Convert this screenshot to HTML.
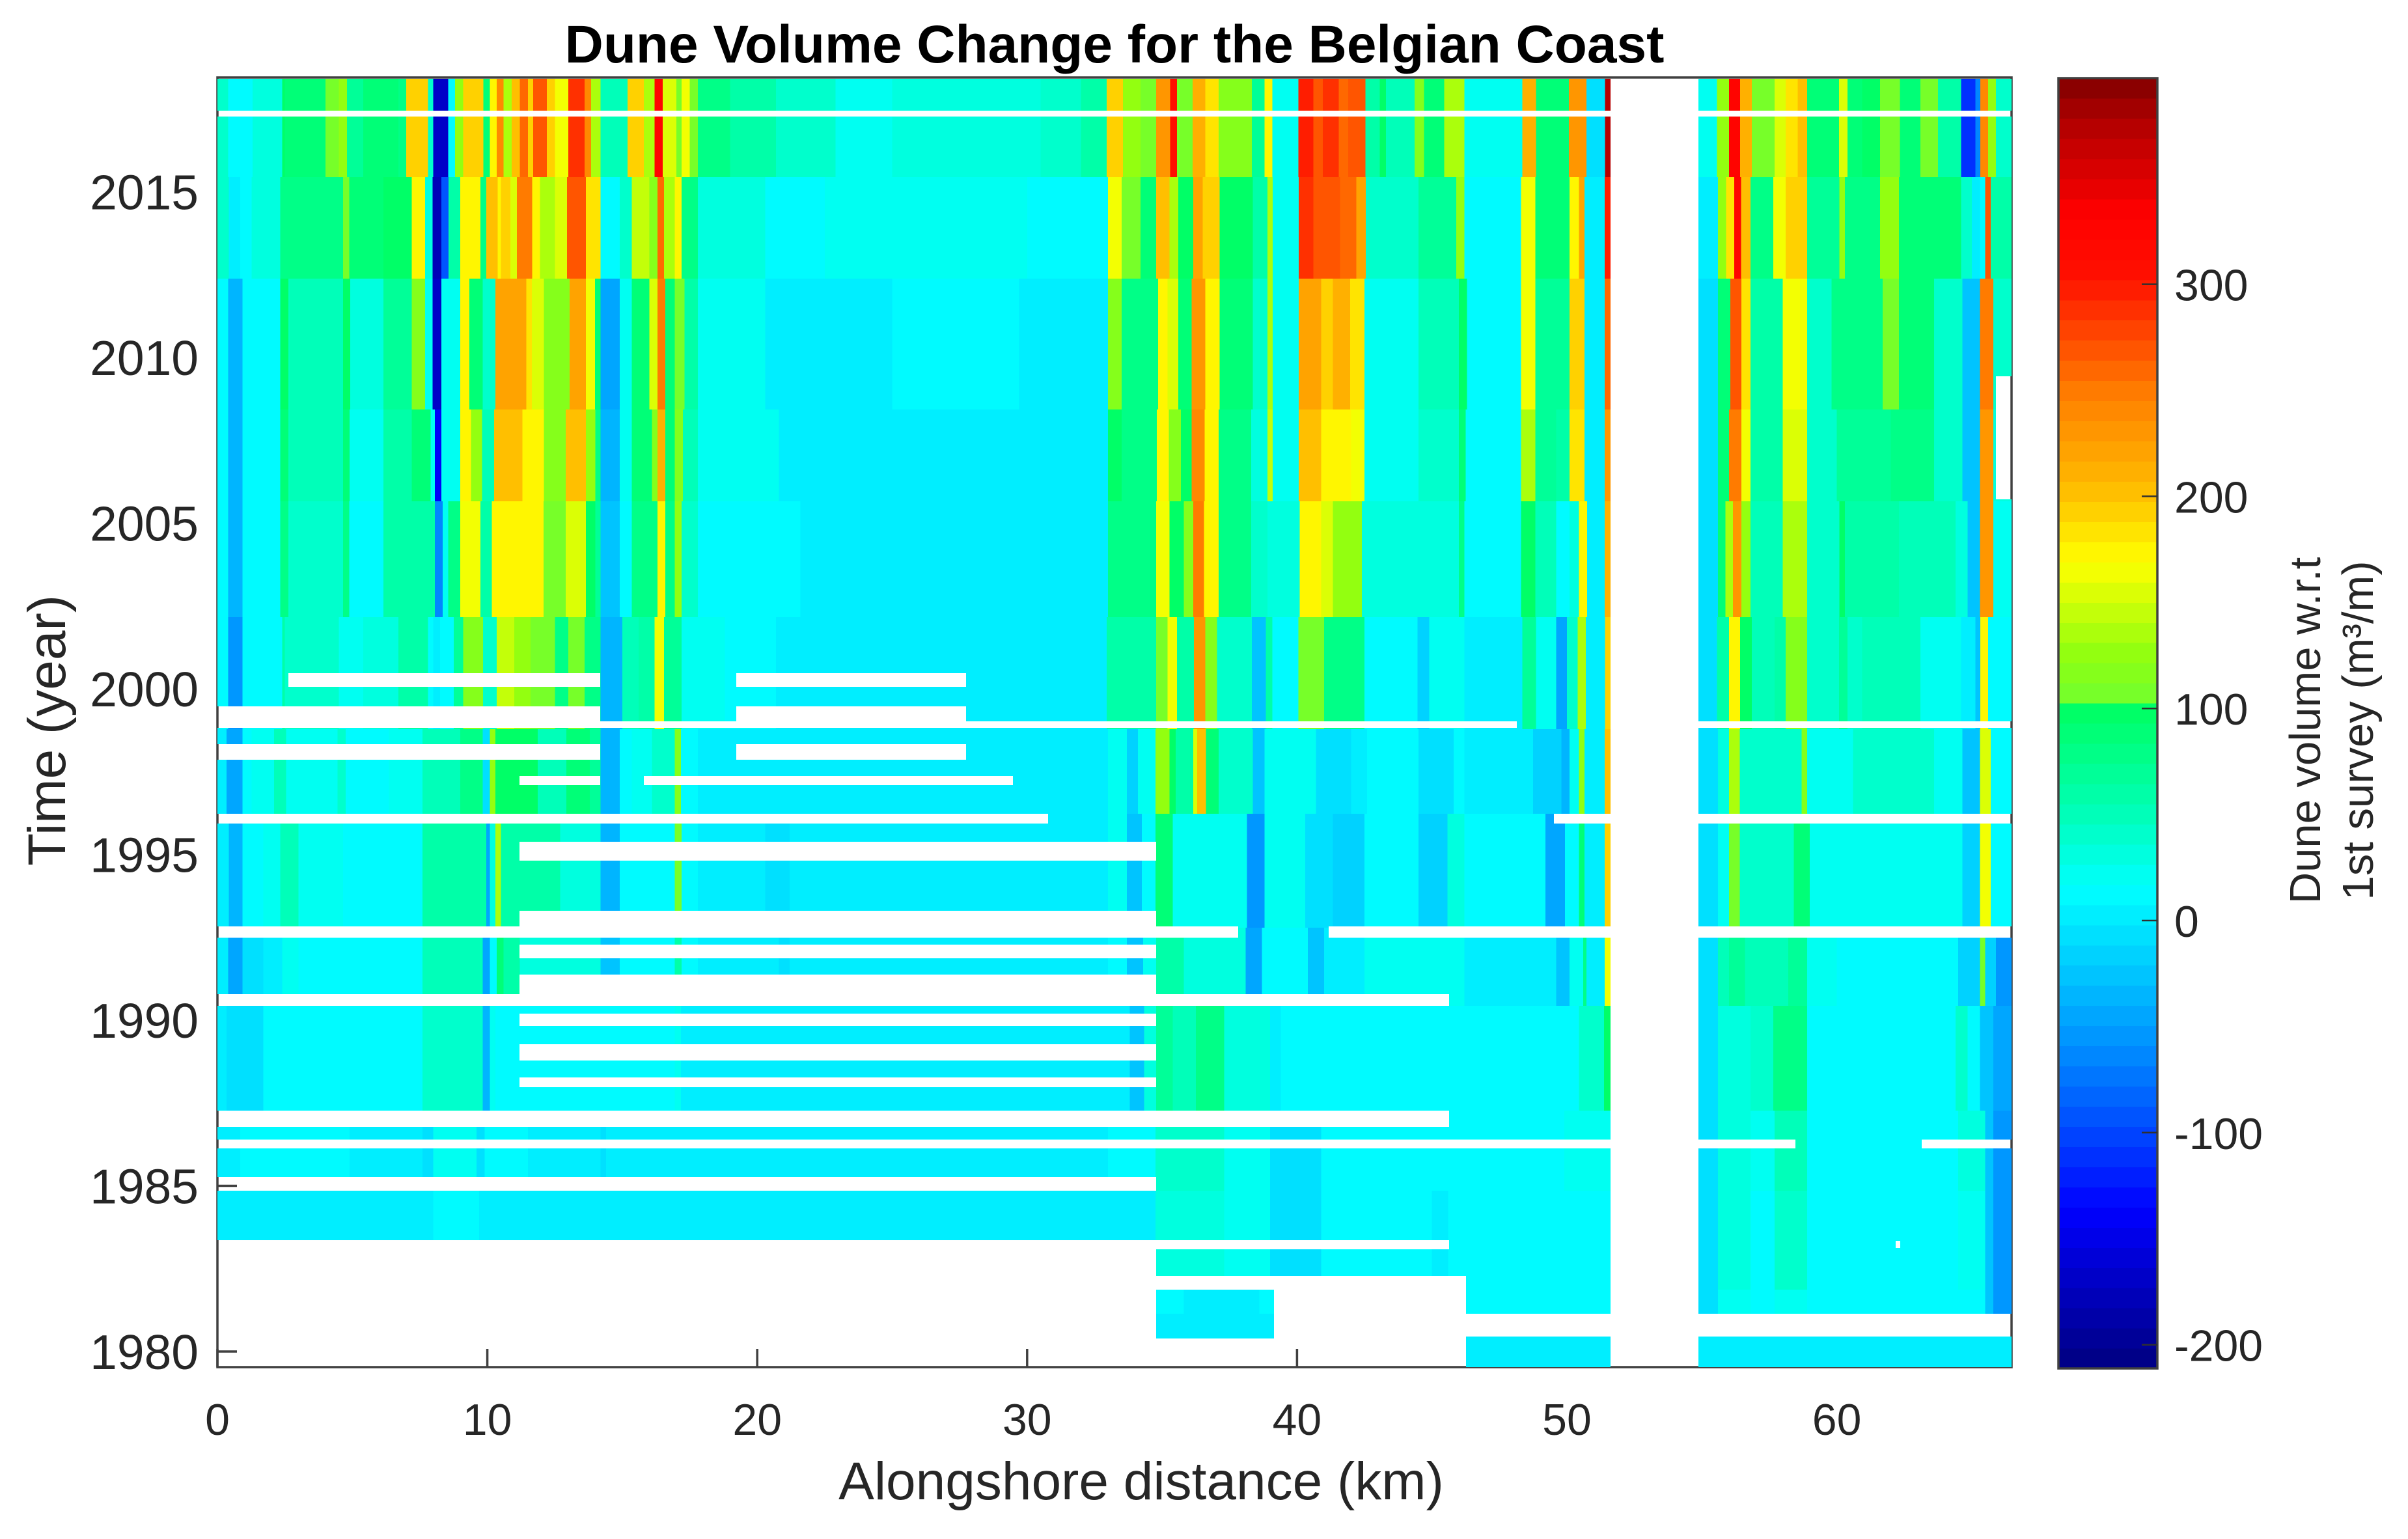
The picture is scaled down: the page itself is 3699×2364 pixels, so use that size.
<!DOCTYPE html>
<html lang="en">
<head>
<meta charset="utf-8">
<title>Dune Volume Change for the Belgian Coast</title>
<style>
html,body{margin:0;padding:0;background:#fff;width:3699px;height:2364px;overflow:hidden}
svg{display:block;font-family:"Liberation Sans",Arial,sans-serif}
</style>
</head>
<body>
<svg id="chart" xmlns="http://www.w3.org/2000/svg" width="3699" height="2364" viewBox="0 0 3699 2364">
  <rect width="3699" height="2364" fill="#fff"/>
  <text x="1712" y="96" font-size="82" font-weight="bold" text-anchor="middle" fill="#000">Dune Volume Change for the Belgian Coast</text>
  <g id="axes"></g>
  <g id="heat" mask="url(#gapMask)" shape-rendering="crispEdges"></g>
  <defs><mask id="gapMask" maskUnits="userSpaceOnUse" x="0" y="0" width="3699" height="2364"><rect width="3699" height="2364" fill="#fff"/><g id="gapRects" shape-rendering="crispEdges"></g></mask></defs>
  <g id="labels"></g>
  <text x="1753" y="2303" font-size="82" text-anchor="middle" fill="#262626">Alongshore distance (km)</text>
  <text transform="translate(100,1122) rotate(-90)" font-size="82" text-anchor="middle" fill="#262626">Time (year)</text>
  <g id="colorbar"></g>
  <text transform="translate(3564,1122) rotate(-90)" font-size="67" text-anchor="middle" fill="#262626">Dune volume w.r.t</text>
  <text transform="translate(3645,1122) rotate(-90)" font-size="67" text-anchor="middle" fill="#262626">1st survey (m³/m)</text>
</svg>
<script>
// Tick values
const xTickValues = [0, 10, 20, 30, 40, 50, 60];
const yTickValues = [1980, 1985, 1990, 1995, 2000, 2005, 2010, 2015];
const colorTickValues = [-200, -100, 0, 100, 200, 300];

// Upper year limit of each survey period (last entry closes the bottom of the map)
const periodTopYears = [2018.42, 2015.44, 2012.38, 2008.43, 2005.66, 2002.16, 1998.78, 1996.23, 1992.79, 1990.43, 1987.27, 1984.85, 1981.87, 1981.14];
const periodBottomYear = 1979.53;

// Dune volume per period: [alongshore end km, m3/m]
const volumes2017 = [[0.4,45],[1.3,15],[2.4,30],[2.5,100],[4,85],[4.5,105],[4.8,130],[5.4,70],[6.7,88],[7,75],[7.8,190],[8,40],[8.55,-170],[8.8,15],[9.1,125],[9.85,190],[10.1,85],[10.35,170],[10.6,240],[10.9,140],[11.2,200],[11.5,255],[11.7,190],[12.2,265],[12.5,190],[13,165],[13.6,285],[13.85,240],[14.19,135],[15.2,50],[15.8,190],[16.2,135],[16.5,325],[17,150],[17.2,110],[17.5,165],[17.8,110],[19,75],[20.7,55],[22.9,40],[25,25],[27.2,32],[29.3,32],[30.5,35],[32,45],[32.95,60],[33.55,190],[34.2,130],[34.78,110],[35.3,235],[35.55,310],[36.13,110],[36.6,210],[37.1,180],[38.33,115],[38.8,70],[39.09,170],[40.05,20],[40.6,295],[40.95,265],[41.55,290],[41.9,255],[42.53,270],[43.07,60],[43.3,100],[44.35,50],[44.7,120],[45.45,85],[46.2,135],[48.35,20],[48.85,215],[50.07,85],[50.72,235],[51.41,-5],[51.62,370],[55.56,25],[56,125],[56.42,325],[56.85,210],[57.7,105],[58.1,150],[58.55,185],[58.9,200],[60.08,85],[60.4,155],[60.94,85],[61.6,100],[62.34,110],[63.1,90],[63.75,110],[64.6,60],[65.14,-110],[65.32,-60],[65.6,240],[65.9,130],[66.5,45]];
const volumes2014 = [[0.42,40],[0.85,5],[1.27,15],[2.33,30],[4.66,75],[4.88,105],[6.15,85],[7.2,95],[7.7,170],[7.97,30],[8.3,-180],[8.56,-90],[9,60],[9.75,170],[9.96,80],[10.38,200],[10.5,170],[10.85,190],[11.1,150],[11.66,245],[11.95,170],[12.5,140],[12.95,150],[13.65,265],[14.19,180],[14.9,15],[15.35,40],[16,145],[16.3,120],[16.55,260],[16.95,135],[17.2,170],[17.8,75],[20.3,30],[22.5,10],[25,20],[27,25],[30,18],[33,8],[33.5,165],[34.2,110],[34.78,90],[35.27,200],[35.6,135],[36.15,100],[36.5,220],[37.13,195],[38.36,95],[38.9,55],[39.1,140],[40.06,25],[40.6,290],[41.6,270],[42.2,255],[42.55,225],[44.5,45],[45.9,70],[46.2,130],[48.3,15],[48.83,165],[50.1,85],[50.45,175],[50.65,225],[51.4,5],[51.63,300],[55.6,0],[55.9,130],[56.2,185],[56.45,325],[56.8,200],[57.65,75],[58.1,165],[58.9,190],[60.1,70],[60.3,125],[61.6,80],[62.3,125],[63.2,90],[64.6,85],[65,45],[65.3,0],[65.5,15],[65.7,265],[66.5,60]];
const volumes2010 = [[0.4,8],[0.93,-35],[2.33,15],[2.63,95],[4.66,50],[4.92,100],[6.15,30],[7.2,65],[7.7,115],[7.97,20],[8.3,-170],[9,25],[9.33,170],[9.83,90],[10.3,40],[11.45,220],[11.65,185],[12.1,150],[13.05,115],[13.65,225],[13.99,160],[14.19,90],[14.9,-45],[15.35,20],[16,85],[16.3,150],[16.6,245],[16.95,85],[17.3,105],[17.8,60],[20.3,20],[25,5],[26.7,12],[29.7,14],[33,5],[33.5,115],[34.85,80],[35.2,170],[35.6,150],[36.1,90],[36.6,235],[37.13,170],[38.36,85],[38.9,40],[39.1,140],[40.06,25],[40.9,220],[41.33,195],[41.97,215],[42.5,185],[44.5,25],[46,50],[46.3,100],[48.3,15],[48.83,160],[50.1,70],[50.65,190],[51.4,3],[51.63,255],[55.6,-10],[56.05,90],[56.46,265],[56.8,185],[58,60],[58.9,165],[59.8,40],[61.7,75],[62.3,110],[63.6,85],[64.65,45],[65.3,-25],[65.8,250],[66.5,40]];
const volumes2007 = [[0.4,8],[0.93,-38],[2.33,15],[2.63,85],[4.66,48],[4.9,90],[6.15,22],[7.2,60],[7.9,90],[8.05,25],[8.3,-140],[9,22],[9.4,170],[9.8,130],[10.25,50],[11.3,205],[12.1,170],[12.9,115],[13.65,200],[14,130],[14.19,80],[14.9,-35],[15.35,18],[16.1,85],[16.3,120],[16.6,215],[16.95,85],[17.25,120],[17.8,50],[20.8,18],[33,6],[33.5,95],[34.8,80],[35.25,170],[35.7,120],[36.1,100],[36.58,240],[37.1,170],[38.3,80],[38.9,35],[39.1,145],[40.06,25],[40.9,205],[41.33,175],[42,170],[42.5,165],[44.5,25],[46,40],[46.25,90],[48.3,13],[48.83,140],[49.6,65],[50.1,55],[50.65,180],[51.4,4],[51.63,230],[55.6,-8],[56,85],[56.46,245],[56.8,160],[58,55],[58.9,150],[60,42],[62,70],[63.6,75],[64.65,45],[65.3,-25],[65.8,235],[66.5,30]];
const volumes2004 = [[0.4,8],[0.93,-40],[2.33,15],[2.63,75],[4.66,45],[4.88,75],[6.15,15],[7.2,60],[8.05,60],[8.35,-60],[8.55,20],[9,80],[9.75,165],[10.17,60],[11.1,175],[12.08,170],[12.9,110],[13.65,155],[14,100],[14.19,70],[14.9,-25],[15.35,15],[16.3,80],[16.6,170],[16.95,80],[17.2,130],[17.8,45],[21.6,15],[33,6],[34.78,80],[35.27,165],[35.8,100],[36.15,120],[36.55,245],[37.1,170],[38.3,75],[38.9,40],[40.1,30],[40.9,170],[41.33,150],[42.4,125],[46,30],[46.2,80],[48.3,12],[48.83,100],[49.6,50],[50.1,15],[50.45,35],[50.75,170],[51.4,5],[51.63,215],[55.6,-8],[55.87,90],[56.15,135],[56.46,235],[56.8,125],[58,50],[58.9,135],[60.1,45],[60.3,100],[62.3,60],[64.4,50],[64.85,30],[65.3,-25],[65.8,230],[66.5,20]];
const volumes2000 = [[0.4,10],[0.93,-50],[1.3,8],[2.4,12],[2.5,60],[4.5,45],[5.4,25],[6.7,35],[7.8,55],[8,15],[8.25,5],[8.75,15],[9.1,70],[9.84,115],[10.35,45],[11,145],[11.6,130],[12.2,110],[12.5,110],[13,75],[13.6,110],[14.19,75],[15,-35],[15.6,50],[16.2,60],[16.55,160],[17.2,65],[18.8,20],[20.7,12],[32.95,6],[34.78,55],[35.2,110],[35.55,160],[36.18,60],[36.6,230],[37.04,120],[38.33,40],[38.85,-25],[39.09,60],[40.05,10],[41,105],[42.5,75],[44.47,8],[44.9,-15],[46.2,20],[48.35,6],[48.85,70],[49.6,25],[50,-45],[50.4,40],[50.7,140],[51.41,3],[51.62,195],[55.56,-8],[56,55],[56.42,170],[56.85,100],[57.7,50],[58.1,55],[58.9,115],[60.08,40],[60.4,65],[60.94,40],[63.1,50],[64.6,25],[65.14,5],[65.32,-25],[65.6,170],[65.9,15],[66.5,12]];
const volumes1998 = [[0.34,5],[0.93,-45],[1.27,10],[2.1,20],[2.55,50],[4.45,25],[4.75,45],[6.36,12],[7.6,25],[9,50],[9.83,75],[10.09,-10],[10.3,125],[10.94,95],[11.45,100],[11.87,95],[12.93,50],[13.8,85],[14.19,70],[14.9,-35],[15.35,10],[16.1,25],[16.95,45],[17.17,120],[17.8,10],[20.8,5],[21.2,-2],[33,5],[33.7,20],[34.1,-20],[34.76,20],[35.27,130],[35.5,100],[36.15,60],[36.3,150],[36.63,200],[37.1,90],[38.36,45],[38.8,-25],[40.7,20],[42,-10],[42.6,2],[44.5,10],[45.8,-10],[46.2,15],[48.75,5],[49.8,-15],[50.1,-40],[50.45,20],[50.65,130],[51.4,5],[51.63,205],[55.6,-10],[56,30],[56.4,140],[58.7,45],[58.9,120],[60.6,25],[63.6,40],[64.65,25],[65.3,-25],[65.7,155],[66.5,10]];
const volumes1995 = [[0.42,5],[0.93,-40],[1.7,10],[2.33,25],[3,50],[4.66,25],[7.6,12],[9.96,55],[10.09,-45],[10.3,30],[10.5,135],[12.7,60],[14.19,35],[14.9,-40],[16.95,12],[17.2,110],[17.8,8],[20.3,5],[21.2,-5],[33,5],[33.7,20],[34.25,-30],[34.76,15],[35.4,85],[38.15,25],[38.8,-50],[40.3,20],[41.33,-10],[42.5,-15],[44.5,15],[45.57,-12],[46.2,30],[49.2,8],[49.93,-45],[50.45,10],[50.65,85],[51.4,5],[51.63,195],[55.6,-10],[56,25],[56.4,110],[58.4,40],[59,85],[60.6,20],[64.65,25],[65.3,-15],[65.7,165],[66.5,8]];
const volumes1992 = [[0.4,5],[0.93,-45],[1.7,-5],[2.4,5],[3,25],[4.66,15],[7.6,10],[9.83,50],[10.09,-45],[10.35,15],[10.6,90],[11.2,55],[14.19,30],[14.9,-30],[16.95,12],[17.2,60],[17.8,10],[20.8,6],[21.2,-3],[33,5],[33.7,10],[34.3,-25],[34.78,20],[35.8,60],[38.1,30],[38.7,-45],[39.6,8],[40.4,10],[41,-30],[42.5,3],[44.5,25],[46.2,25],[49,6],[49.6,3],[50.1,-30],[50.6,20],[50.72,80],[51.4,0],[51.63,165],[55.6,-8],[56,50],[56.6,70],[58.2,50],[58.9,70],[60,18],[64.5,12],[65.3,-15],[65.5,110],[65.9,-15],[66.5,-50]];
const volumes1989 = [[0.34,3],[1.7,-5],[4.24,8],[7.6,10],[9.83,45],[10.09,-35],[10.3,25],[14.4,12],[16.95,8],[17.17,25],[20.8,6],[33.8,5],[34.33,-25],[34.78,35],[35.4,65],[36.25,50],[37.3,80],[39,35],[39.4,5],[42.4,8],[45.8,12],[50.45,10],[51.38,45],[51.63,100],[55.6,-10],[56.8,30],[57.65,45],[58.9,75],[61,15],[64.4,15],[64.85,40],[65.3,15],[65.8,-30],[66.5,-45]];
const volumes1986 = [[0.85,-2],[3,8],[3.8,15],[4.9,10],[7.6,6],[8,-8],[9.6,20],[9.9,-8],[11.5,12],[14.2,6],[14.4,-5],[33,5],[34.76,10],[37.3,42],[39,24],[40.9,-3],[42.2,12],[49.9,8],[51.63,22],[55.6,-8],[56.8,32],[57.7,18],[58.9,48],[61,15],[64.5,10],[65.5,28],[65.8,-25],[66.5,-50]];
const volumes1983 = [[7.5,5],[8,0],[9.7,10],[10,2],[34.76,5],[37.3,30],[39,18],[40.9,-3],[42.2,14],[45,8],[45.6,3],[49.9,8],[51.63,15],[55.6,-8],[56.8,30],[57.7,15],[58.9,42],[61,14],[64.5,10],[65.5,22],[65.8,-25],[66.5,-50]];
const volumes1981 = [[34.76,5],[35.8,9],[36.6,5],[37.6,-2],[38.6,4],[39.15,8],[46.26,5],[49.9,8],[51.63,12],[55.6,-6],[56.8,18],[57.7,12],[58.9,20],[61,12],[64.5,8],[65.5,14],[65.8,-25],[66.5,-50]];
const volumes1980 = [[66.5,6]];
const periodVolumes = [volumes2017, volumes2014, volumes2010, volumes2007, volumes2004, volumes2000, volumes1998, volumes1995, volumes1992, volumes1989, volumes1986, volumes1983, volumes1981, volumes1980];

// Missing survey stretches: [start km, end km, year low, year high]
const missingStretches = [
  [0,66.47,2017.27,2017.45],
  [2.63,14.18,2000.06,2000.47],[19.22,27.74,2000.06,2000.47],
  [0,14.18,1998.82,1999.47],[19.22,27.74,1998.82,1999.47],
  [14.18,48.14,1998.82,1999.02],[54.87,66.47,1998.82,1999.02],
  [0,14.18,1997.86,1998.33],[19.22,27.74,1997.86,1998.33],
  [11.19,14.18,1997.09,1997.37],[15.8,29.47,1997.09,1997.37],
  [0,30.78,1995.93,1996.23],[49.52,51.62,1995.93,1996.23],[54.87,66.47,1995.93,1996.23],
  [11.19,34.78,1994.81,1995.38],
  [11.19,34.78,1992.49,1993.3],[0,11.19,1992.49,1992.83],[34.78,37.82,1992.49,1992.83],[41.17,51.62,1992.49,1992.83],[54.87,66.47,1992.49,1992.83],
  [11.19,34.78,1991.87,1992.28],
  [11.19,34.78,1990.43,1991.38],[0,11.19,1990.43,1990.79],[34.78,45.63,1990.43,1990.79],
  [11.19,34.78,1989.82,1990.2],
  [11.19,34.78,1988.78,1989.27],
  [11.19,34.78,1987.98,1988.27],
  [0,45.63,1986.78,1987.27],
  [0,51.62,1986.13,1986.39],[54.87,58.47,1986.13,1986.39],[63.14,66.47,1986.13,1986.39],
  [0,34.78,1984.85,1985.27],
  [0,34.78,1979.53,1983.36],
  [34.78,45.63,1983.08,1983.36],
  [34.78,46.26,1981.87,1982.28],
  [39.15,46.26,1979.53,1981.87],
  [34.78,39.15,1979.53,1980.39],
  [46.26,51.62,1980.45,1981.14],[54.87,66.47,1980.45,1981.14],
  [51.62,54.87,1979.53,2018.42],
  [65.9,66.47,2005.72,2009.43],
  [62.18,62.35,1983.12,1983.34]
];

// Colormap stops: value (m3/m)
const colorStopValues = [-211,-136,-103,-59,-18,15,55,101.9,102,125,169,206,247,304,333,349,377,397];
const colorStopHex = ['#000080','#0000ff','#0040ff','#0090ff','#00d0ff','#00ffff','#00ffb0','#00ff60','#70ff30','#90ff10','#ffff00','#ffb800','#ff8000','#ff1000','#ff0000','#e00000','#b00000','#800000'];
const colorLevels = 64;

const SVGNS = 'http://www.w3.org/2000/svg';
const plot = {left:334, right:3090, top:119, bottom:2100};
const bar = {left:3162, right:3314, top:120, bottom:2102};
const xKm = km => plot.left + km * 41.46;
const yYear = yr => 2076 - (yr - 1980) * 50.9;
const yColor = v => 1414 - v * 3.258;
const dataMin = colorStopValues[0];
const dataMax = colorStopValues[colorStopValues.length - 1];

function hexToRgb(h){return [1,3,5].map(i=>parseInt(h.substr(i,2),16));}
function colorFor(v){
  const step = (dataMax - dataMin) / colorLevels;
  let lvl = Math.floor((v - dataMin) / step);
  lvl = Math.max(0, Math.min(colorLevels - 1, lvl));
  const q = dataMin + (lvl + 0.5) * step;
  let i = 0;
  while (i < colorStopValues.length - 2 && q > colorStopValues[i + 1]) i++;
  const t = (q - colorStopValues[i]) / (colorStopValues[i + 1] - colorStopValues[i]);
  const a = hexToRgb(colorStopHex[i]);
  const b = hexToRgb(colorStopHex[i + 1]);
  return 'rgb(' + a.map((c, k) => Math.round(c + (b[k] - c) * t)).join(',') + ')';
}
function make(tag, attrs, parent){
  const el = document.createElementNS(SVGNS, tag);
  for (const k in attrs) el.setAttribute(k, attrs[k]);
  parent.appendChild(el);
  return el;
}

// Axes (beneath the heatmap, so they show through missing stretches)
const axes = document.getElementById('axes');
const axisStyle = {stroke:'#404040', 'stroke-width':3.5, fill:'none'};
const frame = make('rect', Object.assign({x:plot.left, y:plot.top, width:plot.right - plot.left, height:plot.bottom - plot.top}, axisStyle), axes);



const labels = document.getElementById('labels');
xTickValues.forEach(v => {
  const x = xKm(v);
  const tick = make('line', Object.assign({x1:x, x2:x, y1:plot.bottom, y2:plot.bottom - 28}, axisStyle), axes);
  
  
  const t = make('text', {x:x, y:2204, 'font-size':68, 'text-anchor':'middle', fill:'#262626'}, labels);
  t.textContent = v;
  
  
});
yTickValues.forEach(v => {
  const y = yYear(v);
  const tick = make('line', Object.assign({x1:plot.left, x2:plot.left + 30, y1:y, y2:y}, axisStyle), axes);
  
  
  const t = make('text', {x:305, y:y + 27, 'font-size':75, 'text-anchor':'end', fill:'#262626'}, labels);
  t.textContent = v;
  
  
});

// Heatmap cells
const heat = document.getElementById('heat');
periodVolumes.forEach((profile, p) => {
  const yTop = Math.max(yYear(periodTopYears[p]), plot.top + 2);
  const yBot = p + 1 < periodTopYears.length ? yYear(periodTopYears[p + 1]) : yYear(periodBottomYear);
  let startKm = 0;
  profile.forEach(stripe => {
    const x0 = xKm(startKm);
    const x1 = Math.min(xKm(stripe[0]), plot.right);
    const cell = make('rect', {x:x0, y:yTop, width:x1 - x0, height:yBot - yTop, fill:colorFor(stripe[1])}, heat);
    
    
    startKm = stripe[0];
  });
});

// Missing survey stretches are knocked out of the heatmap
const gapRects = document.getElementById('gapRects');
missingStretches.forEach(g => {
  const x0 = xKm(g[0]);
  const x1 = xKm(g[1]);
  const y0 = yYear(g[3]);
  const y1 = yYear(g[2]);
  const gap = make('rect', {x:x0, y:y0, width:x1 - x0, height:y1 - y0, fill:'#000'}, gapRects);
  
  
});

// Colorbar
const cbar = document.getElementById('colorbar');
const levelStep = (dataMax - dataMin) / colorLevels;
for (let i = 0; i < colorLevels; i++) {
  const lo = dataMin + i * levelStep;
  const y1 = bar.bottom - (bar.bottom - bar.top) * i / colorLevels;
  const y0 = bar.bottom - (bar.bottom - bar.top) * (i + 1) / colorLevels;
  const band = make('rect', {x:bar.left, y:y0, width:bar.right - bar.left, height:y1 - y0 + 0.6, fill:colorFor(lo + levelStep / 2), 'shape-rendering':'crispEdges'}, cbar);
  
  
}
const cframe = make('rect', {x:bar.left, y:bar.top, width:bar.right - bar.left, height:bar.bottom - bar.top, fill:'none', stroke:'#404040', 'stroke-width':3.5}, cbar);


colorTickValues.forEach(v => {
  const y = yColor(v);
  const tick = make('line', {x1:bar.right - 24, x2:bar.right, y1:y, y2:y, stroke:'#303030', 'stroke-width':2.5}, cbar);
  
  
  const t = make('text', {x:3340, y:y + 25, 'font-size':68, fill:'#262626'}, cbar);
  t.textContent = v;
  
  
});
</script>
</body>
</html>
